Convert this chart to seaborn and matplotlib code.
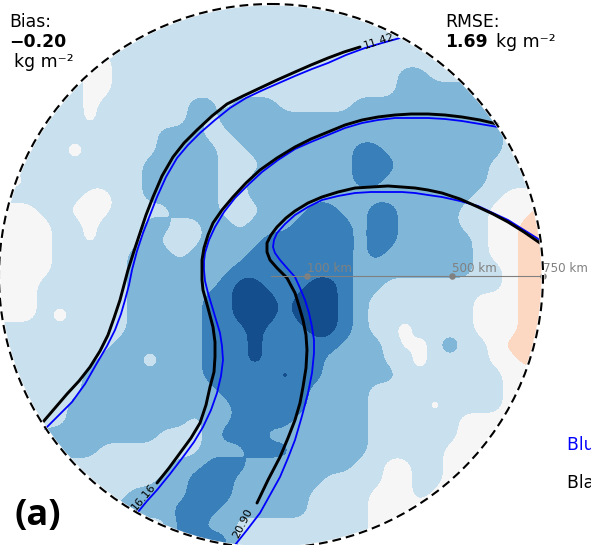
import numpy as np
import matplotlib
matplotlib.use('Agg')
import matplotlib.pyplot as plt
from matplotlib.patches import Circle
import seaborn as sns

# bias field, one digit per cell, every 15 map units
# 0 orange, 1 near zero, 2 light blue, 3 mid blue, 4 strong blue, 5 dark blue
bias_rows = [
    "2222222222222222222222222222222222222",
    "2222222222222222222222222222222222222",
    "2222222221122222222222222222222222222",
    "2222222222222222222222222222222222222",
    "2222221122222222222222222222222222222",
    "2222221122222222222222222223322222222",
    "2222221122222222222222222223333322222",
    "2222221222222332333222223333333332222",
    "2222221222222323333333333333333333222",
    "2222222222233322333333333333333333222",
    "2222222222233332233333334433333333222",
    "2222222222333332223333334443333332222",
    "2222222222333332233333334433333332222",
    "2222221122333332233333333333333322111",
    "1112211122223332223334433443333221110",
    "1111221222332233233344443443333221100",
    "1111221222322233334444443443333321100",
    "1111222223332333344444443433333321100",
    "1111222223333333444444443333333322100",
    "1112222223333334554445543322222222100",
    "1112222223333344555455543222222211100",
    "1112222223333344555455543222222211100",
    "2222222223333344454445543222222211100",
    "2222222233333344454444433322222221000",
    "2222222333333344454444333322222221100",
    "2222223333333344444444333332222222111",
    "2222223333333334444443333222222222111",
    "2222233333333333444443333222222222111",
    "2222233333333233444433333222222111111",
    "2223333333322234443333333222222111111",
    "2222333222222233344433333222221111111",
    "2222222222223344433333332211221111111",
    "2222222222233444333333222211221111111",
    "2222222223333444333332222111211111111",
    "2222222233334443333332222111111111111",
    "2222222222224433222222222111111111111",
    "2222222222224444222222222111111111111",
]
# small features that are narrower than one cell
spot_row = [10, 21, 24, 23, 27, 25, 12, 22, 23, 23, 24]
spot_col = [5, 4, 10, 30, 29, 19, 1, 27, 27, 28, 28]
spot_delta = [-1, -1, -1, 1, -0.7, 0.62, -1, -1, -0.6, -1, -1]

# bin edges and colours of the bias classes
class_edges = [-0.5, 0.5, 1.5, 2.5, 3.5, 4.5, 5.5]
class_colors = ['#fcd8c2', '#f6f6f6', '#c9e1ee', '#80b6d7', '#3980ba', '#144e8d']

# contours
outer_black_x = [43, 55, 67, 79, 90, 100, 108, 114, 120, 124, 128, 134, 140, 146, 153, 162, 173, 184, 197, 212, 227, 243, 260, 277, 295, 311, 328, 344, 360]
outer_black_y = [422, 408, 394, 381, 367, 351, 335, 318, 300, 285, 270, 251, 233, 215, 197, 176, 157, 143, 130, 116, 104, 96, 88, 80, 72, 65, 58, 52, 47]
outer_blue_x = [45, 58, 72, 85, 97, 107, 115, 121, 125, 129, 132, 137, 143, 150, 157, 166, 177, 188, 200, 215, 230, 246, 263, 279, 295, 312, 328, 346, 365, 382, 400]
outer_blue_y = [429, 416, 402, 384, 363, 346, 330, 314, 300, 285, 270, 251, 233, 215, 197, 177, 158, 145, 133, 120, 108, 98, 90, 83, 76, 69, 63, 55, 48, 43, 38]
middle_black_x = [157, 169, 180, 191, 200, 206, 210, 214, 215, 215, 213, 208, 203, 202, 202, 202, 204, 208, 213, 222, 233, 246, 260, 277, 295, 311, 328, 345, 362, 378, 395, 411, 428, 445, 462, 480, 497]
middle_black_y = [483, 468, 453, 438, 423, 405, 387, 372, 357, 342, 327, 308, 290, 280, 270, 260, 248, 235, 223, 210, 197, 183, 170, 158, 147, 139, 132, 125, 120, 117, 115, 114, 114, 115, 117, 120, 124]
middle_blue_x = [138, 147, 157, 170, 183, 194, 203, 211, 217, 221, 223, 222, 220, 214, 208, 205, 204, 204, 205, 209, 215, 224, 235, 248, 262, 278, 295, 311, 328, 345, 362, 378, 395, 411, 428, 445, 462, 480, 498]
middle_blue_y = [512, 501, 490, 474, 457, 442, 427, 410, 393, 376, 360, 346, 333, 313, 293, 281, 270, 261, 253, 240, 227, 212, 198, 185, 172, 160, 149, 142, 135, 128, 123, 120, 118, 118, 118, 119, 121, 124, 127]
inner_black_x = [257, 268, 280, 288, 295, 300, 303, 306, 307, 306, 303, 299, 295, 287, 277, 270, 267, 267, 271, 277, 286, 295, 308, 322, 338, 355, 371, 388, 402, 415, 428, 442, 460, 478, 493, 508, 524, 540]
inner_black_y = [503, 480, 457, 438, 420, 403, 387, 368, 350, 335, 320, 306, 293, 278, 268, 260, 252, 243, 235, 227, 218, 211, 203, 197, 192, 188, 187, 186, 187, 188, 190, 193, 199, 207, 214, 222, 232, 243]
inner_blue_x = [235, 247, 260, 270, 280, 288, 295, 302, 308, 312, 314, 314, 312, 309, 305, 300, 295, 287, 280, 275, 273, 274, 277, 285, 295, 308, 322, 338, 355, 371, 388, 402, 415, 428, 442, 460, 478, 493, 508, 524, 540]
inner_blue_y = [545, 530, 513, 495, 477, 458, 440, 416, 393, 373, 353, 340, 327, 313, 300, 288, 277, 268, 260, 253, 247, 240, 233, 224, 215, 207, 200, 196, 193, 192, 192, 192, 193, 195, 197, 201, 206, 213, 220, 230, 240]

contour_labels = ['11.42', '16.16', '20.90']
label_x = [379, 144, 243]
label_y = [41, 497, 523]
label_rot = [18, 50, 63]

range_km = [100, 500, 750]

center_x = 271
center_y = 276
radius = 272
cell = 15
sub = 5


def rounded(grid, width):
    # upsample a cell grid and round off its corners so the contours are not blocky
    fine = np.kron(grid, np.ones((sub, sub)))
    kernel = np.hanning(width + 2)[1:-1]
    kernel = kernel / kernel.sum()
    pad = width
    fine = np.pad(fine, pad, mode='edge')
    fine = np.apply_along_axis(lambda v: np.convolve(v, kernel, mode='same'), 0, fine)
    fine = np.apply_along_axis(lambda v: np.convolve(v, kernel, mode='same'), 1, fine)
    return fine[pad:-pad, pad:-pad]


sns.set_style('white')
plt.rcParams['font.family'] = ['DejaVu Sans']
plt.rcParams['text.color'] = 'black'

fig = plt.figure(figsize=(5.91, 5.45), dpi=100)
ax = fig.add_axes([0, 0, 1, 1])
ax.axis('off')

field = np.array([[int(c) for c in row] for row in bias_rows], dtype=float)
spots = np.zeros_like(field)
spots[spot_row, spot_col] = spot_delta
smooth = rounded(field, 13) + rounded(spots, 7)
coords = (np.arange(smooth.shape[0]) + 0.5) * cell / sub - cell / 2

clip = Circle((center_x, center_y), radius, transform=ax.transData)
filled = ax.contourf(coords, coords, smooth, levels=class_edges, colors=class_colors, zorder=1)
filled.set_clip_path(clip)
ax.set_xlim(0, 591)
ax.set_ylim(545, 0)

for xs, ys in [(outer_blue_x, outer_blue_y), (middle_blue_x, middle_blue_y), (inner_blue_x, inner_blue_y)]:
    sns.lineplot(x=xs, y=ys, sort=False, estimator=None, color='#0000ff', linewidth=1.3, ax=ax, zorder=3)
for xs, ys in [(outer_black_x, outer_black_y), (middle_black_x, middle_black_y), (inner_black_x, inner_black_y)]:
    sns.lineplot(x=xs, y=ys, sort=False, estimator=None, color='black', linewidth=2.1, ax=ax, zorder=4)

for txt, lx, ly, rot in zip(contour_labels, label_x, label_y, label_rot):
    ax.text(lx, ly, txt, fontsize=8, rotation=rot, ha='center', va='center', color='black', zorder=5)

# range ring markers
range_x = [center_x + km / 750 * radius for km in range_km]
ax.plot([center_x, center_x + radius], [center_y, center_y], color='gray', lw=0.8, zorder=5)
sns.scatterplot(x=range_x, y=[center_y] * 3, color='gray', s=22, linewidth=0, ax=ax, zorder=6, clip_on=False)
for rx, km in zip(range_x, range_km):
    ax.text(rx, center_y - 1.5, f'{km} km', fontsize=8.6, color='gray', ha='left', va='bottom', zorder=6)

ax.add_patch(Circle((center_x, center_y), radius, fill=False, ec='white', lw=2.2, zorder=7))
ax.add_patch(Circle((center_x, center_y), radius, fill=False, ec='black', lw=1.5,
                    linestyle=(0, (4.2, 2.4)), zorder=8))

ax.text(9, 27, 'Bias:', fontsize=12.4, va='baseline')
ax.text(9, 47, '\u22120.20', fontsize=12.4, fontweight='bold', va='baseline')
ax.text(14, 67, 'kg m\u207b\u00b2', fontsize=12.4, va='baseline')
ax.text(445, 27, 'RMSE:', fontsize=12.4, va='baseline')
ax.text(445, 47, '1.69', fontsize=12.4, fontweight='bold', va='baseline')
ax.text(496, 47, 'kg m\u207b\u00b2', fontsize=12.4, va='baseline')
ax.text(14, 525, '(a)', fontsize=26, fontweight='bold', family='Open Sans', va='baseline')
ax.text(567, 450, 'Blue: truth', fontsize=12.4, color='#0000ff', va='baseline', clip_on=False)
ax.text(567, 488, 'Black: forecast', fontsize=12.4, color='black', va='baseline', clip_on=False)

fig.savefig('out.png', dpi=100)
